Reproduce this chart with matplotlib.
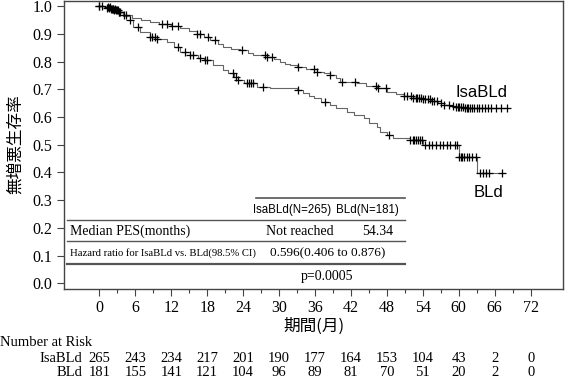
import numpy as np
import matplotlib.pyplot as plt

plt.rcParams['font.family'] = ['Liberation Serif', 'Noto Sans CJK JP']

# KM step data (time in months, survival after the step)
isa_time = [0, 1.0, 1.8, 2.5, 3.2, 4.0, 5.5, 7.0, 8.5, 10.0, 12.0, 13.5, 15.0, 16.3,
            17.5, 18.5, 19.8, 20.7, 22.0, 23.5, 24.8, 25.7, 28.0, 29.2, 30.2, 31.0,
            31.9, 33.0, 34.5, 36.3, 37.5, 38.5, 39.5, 40.2, 43.0, 44.5, 46.3, 48.0,
            49.5, 50.8, 52.4, 54.0, 55.3, 56.6, 57.5, 58.5, 59.5, 61.0, 68.0]
isa_surv = [1.0, 0.996, 0.99, 0.985, 0.978, 0.967, 0.958, 0.950, 0.944, 0.937, 0.930,
            0.922, 0.912, 0.900, 0.888, 0.877, 0.865, 0.853, 0.847, 0.841, 0.832, 0.823,
            0.818, 0.808, 0.800, 0.793, 0.787, 0.779, 0.772, 0.763, 0.757, 0.751, 0.740,
            0.727, 0.721, 0.713, 0.703, 0.691, 0.682, 0.675, 0.670, 0.665, 0.658, 0.649,
            0.645, 0.640, 0.635, 0.631, 0.631]
isa_cens = [0.0, 0.4, 1.5, 1.7, 1.9, 2.1, 2.3, 2.5, 2.7, 2.9, 3.1, 3.3, 3.5, 4.1, 4.5,
            10.4, 11.3, 12.2, 13.1, 16.3, 16.8, 18.2, 19.3, 23.8, 27.7, 28.0, 28.8,
            33.2, 35.8, 36.3, 38.5, 40.5, 42.7, 46.1, 46.6, 47.9, 50.8, 51.4, 52.0,
            52.4, 52.8, 53.1, 53.4, 53.7, 54.0, 54.4, 54.8, 55.2, 55.5, 55.8, 56.4,
            57.0, 57.6, 58.4, 59.1, 59.5, 59.8, 60.1, 60.4, 60.7, 61.0, 61.3, 61.6,
            61.9, 62.2, 62.6, 63.0, 63.4, 63.8, 64.3, 64.8, 65.4, 66.2, 67.0, 68.0]

bld_time = [0, 1.0, 2.0, 3.0, 4.0, 5.1, 5.7, 6.8, 8.5, 9.6, 11.3, 12.4, 13.5, 15.2,
            16.5, 17.4, 19.0, 20.7, 21.5, 22.4, 23.2, 24.1, 26.3, 28.5, 33.0, 34.0,
            35.0, 35.8, 37.0, 38.5, 39.5, 41.3, 42.5, 44.1, 45.0, 46.3, 46.8, 48.0,
            49.1, 51.9, 54.1, 60.0, 63.0, 67.5]
bld_surv = [1.0, 0.995, 0.988, 0.978, 0.966, 0.950, 0.925, 0.907, 0.889, 0.883, 0.871,
            0.853, 0.835, 0.823, 0.812, 0.805, 0.787, 0.769, 0.757, 0.745, 0.733, 0.721,
            0.709, 0.703, 0.697, 0.685, 0.675, 0.667, 0.655, 0.643, 0.631, 0.619, 0.607,
            0.595, 0.580, 0.565, 0.547, 0.535, 0.523, 0.517, 0.499, 0.457, 0.397, 0.397]
bld_cens = [0.0, 1.2, 1.6, 2.2, 2.6, 3.3, 5.1, 6.5, 8.5, 8.8, 9.3, 9.6, 13.2, 14.3,
            15.2, 15.7, 16.8, 17.7, 17.9, 22.3, 22.8, 23.2, 24.6, 25.0, 25.4, 25.7,
            27.4, 33.2, 37.7, 48.3, 51.9, 52.3, 52.6, 52.9, 53.2, 53.6, 53.9, 54.4,
            55.0, 55.6, 56.2, 56.8, 57.4, 58.0, 58.6, 59.4, 59.7, 60.0, 60.3, 60.6,
            60.9, 61.3, 61.7, 62.2, 62.8, 63.5, 64.0, 64.5, 65.0, 67.2]

risk_times = [0, 6, 12, 18, 24, 30, 36, 42, 48, 54, 60, 66, 72]
risk_isa = [265, 243, 234, 217, 201, 190, 177, 164, 153, 104, 43, 2, 0]
risk_bld = [181, 155, 141, 121, 104, 96, 89, 81, 70, 51, 20, 2, 0]


def step_value(times, surv, t):
    idx = np.searchsorted(times, t, side='right') - 1
    return np.array(surv)[idx]


fig = plt.figure(figsize=(5.65, 3.78), dpi=100)
ax = fig.add_axes([64 / 565, 1 - 288.7 / 378, 499 / 565, 288.2 / 378])

ax.step(isa_time, isa_surv, where='post', color='#666666', lw=0.8)
ax.step(bld_time, bld_surv, where='post', color='#666666', lw=0.8)
ax.plot(isa_cens, step_value(isa_time, isa_surv, isa_cens), '+', color='black', ms=6, mew=0.9)
ax.plot(bld_cens, step_value(bld_time, bld_surv, bld_cens), '+', color='black', ms=6, mew=0.9)

ax.set_xlim(-5.9, 77.4)
ax.set_ylim(-0.0195, 1.0203)
ax.set_xticks(risk_times)
ax.set_xticks(np.arange(3, 72, 6), minor=True)
ax.set_yticks(np.arange(0, 1.01, 0.1))
ax.set_yticklabels(['%.1f' % v for v in np.arange(0, 1.01, 0.1)])
ax.tick_params(axis='both', labelsize=11.5, length=5, width=0.8, color='#444444')
ax.tick_params(axis='x', which='minor', length=3, width=0.8, color='#444444')
ax.tick_params(axis='x', pad=3)
for s in ax.spines.values():
    s.set_color('#444444')
    s.set_linewidth(1.0)

ax.set_xlabel('期間(月)', family=['Noto Sans CJK JP'], fontsize=12, labelpad=1)
ax.set_ylabel('無増悪生存率', family=['Noto Sans CJK JP'], fontsize=12, labelpad=6)

# curve labels
ax.text(59.4, 0.690, 'IsaBLd', family='Liberation Sans', fontsize=12, va='center')
ax.text(62.4, 0.326, 'BLd', family='Liberation Sans', fontsize=12, va='center')

# summary table
ax.plot([26.2, 51.1], [0.308, 0.308], color='#555555', lw=1.2)
ax.plot([-5.4, 51.1], [0.228, 0.228], color='#555555', lw=1.0)
ax.plot([-5.4, 51.1], [0.151, 0.151], color='#555555', lw=1.0)
ax.plot([-5.4, 51.1], [0.0714, 0.0714], color='#555555', lw=1.6)
ax.text(32.2, 0.264, 'IsaBLd(N=265)', family='Liberation Sans', fontsize=8.3, ha='center', va='center')
ax.text(44.8, 0.264, 'BLd(N=181)', family='Liberation Sans', fontsize=8.3, ha='center', va='center')
ax.text(-4.9, 0.186, 'Median PES(months)', fontsize=10, va='center')
ax.text(33.5, 0.186, 'Not reached', fontsize=10, ha='center', va='center')
ax.text(46.4, 0.186, '54.34', fontsize=10, ha='center', va='center')
ax.text(-4.9, 0.110, 'Hazard ratio for IsaBLd vs. BLd(98.5% CI)', fontsize=7.7, va='center')
ax.text(38.2, 0.110, '0.596(0.406 to 0.876)', fontsize=9.5, ha='center', va='center')
ax.text(38.0, 0.023, 'p=0.0005', fontsize=10, ha='center', va='center')

# number at risk
trans = ax.get_xaxis_transform()
ax.text(-5.9 - 64 / 5.985, (288.7 - 343) / 288.2, 'Number at Risk', transform=trans,
        fontsize=10.5, va='center', clip_on=False)
for label, counts, py in [('IsaBLd', risk_isa, 358), ('BLd', risk_bld, 373)]:
    y = (288.7 - py) / 288.2
    ax.text(-2.8, y, label, transform=trans, fontsize=10.5, ha='right', va='center')
    for t, n in zip(risk_times, counts):
        ax.text(t, y, str(n), transform=trans, fontsize=10.5, ha='center', va='center')

fig.savefig('out.png', dpi=100)
